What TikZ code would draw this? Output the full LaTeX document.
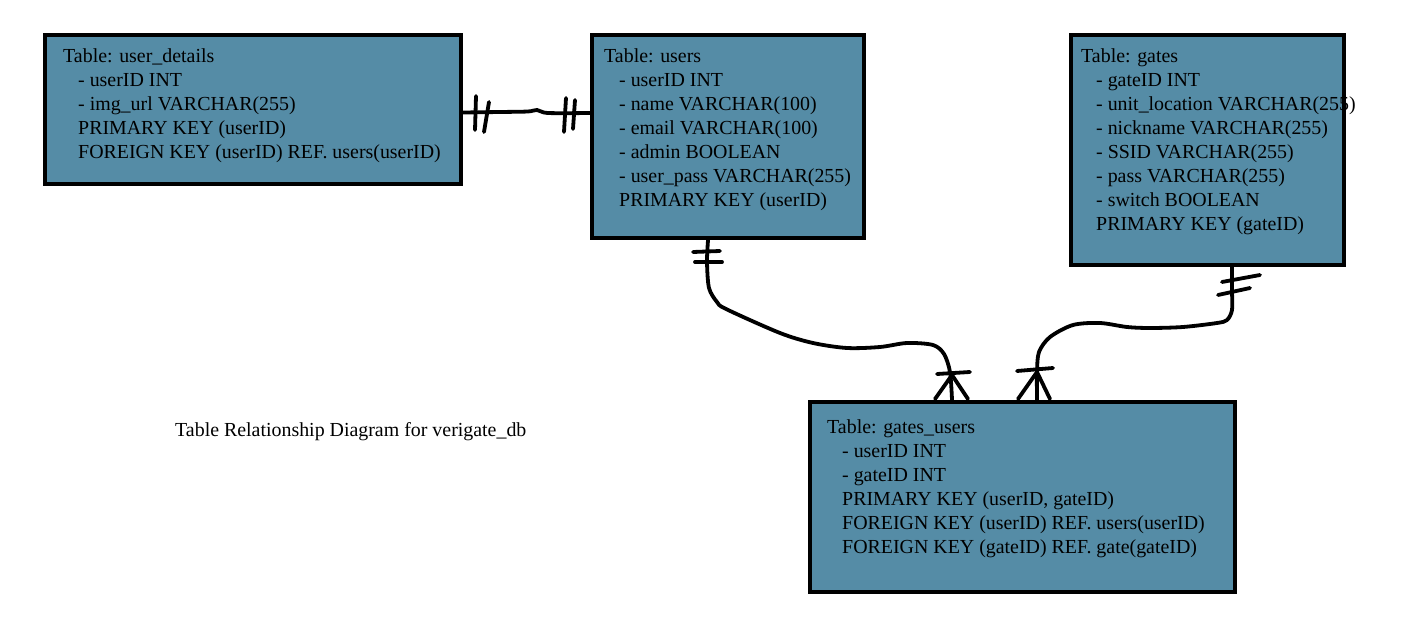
\documentclass[tikz,border=0pt]{standalone}
\usepackage{fontspec}
\setmainfont{Liberation Serif}
\usetikzlibrary{positioning,calc}
\definecolor{erTable}{HTML}{558CA6}
\newcommand{\fld}{\hspace*{15pt}}
\tikzset{
  tablebox/.style={draw=black, line width=4.5pt, fill=erTable, inner sep=0pt},
  tabletext/.style={anchor=north west, align=left, inner sep=0pt,
    font=\fontsize{19.9}{24}\selectfont},
  relline/.style={line width=3.8pt, black, line cap=round, line join=round},
  caption/.style={anchor=base west, inner sep=0pt, font=\fontsize{19.9}{24}\selectfont}
}
\begin{document}
\begin{tikzpicture}[x=1pt, y=-1pt]
  \useasboundingbox (0,0) rectangle (1422,620);

  % tables
  \node[tablebox, minimum width=416pt, minimum height=149pt] (details) at (253,109.5) {};
  \node[tablebox, minimum width=272pt, minimum height=203pt] (users) at (728,136.5) {};
  \node[tablebox, minimum width=273pt, minimum height=230pt] (gates) at (1207.5,150) {};
  \node[tablebox, minimum width=425pt, minimum height=190pt] (gatesusers) at (1022.5,497) {};

  \node[tabletext] (detailstext) at (63,45.2) {\strut Table: user\_details\\
    \fld- userID INT\\
    \fld- img\_url VARCHAR(255)\\
    \fld PRIMARY KEY (userID)\\
    \fld FOREIGN KEY (userID) REF. users(userID)};
  \node[tabletext] (userstext) at (604,45.2) {\strut Table: users\\
    \fld- userID INT\\
    \fld- name VARCHAR(100)\\
    \fld- email VARCHAR(100)\\
    \fld- admin BOOLEAN\\
    \fld- user\_pass VARCHAR(255)\\
    \fld PRIMARY KEY (userID)};
  \node[tabletext] (gatestext) at (1081,45.2) {\strut Table: gates\\
    \fld- gateID INT\\
    \fld- unit\_location VARCHAR(255)\\
    \fld- nickname VARCHAR(255)\\
    \fld- SSID VARCHAR(255)\\
    \fld- pass VARCHAR(255)\\
    \fld- switch BOOLEAN\\
    \fld PRIMARY KEY (gateID)};
  \node[tabletext] (gatesuserstext) at (827,416.2) {\strut Table: gates\_users\\
    \fld- userID INT\\
    \fld- gateID INT\\
    \fld PRIMARY KEY (userID, gateID)\\
    \fld FOREIGN KEY (userID) REF. users(userID)\\
    \fld FOREIGN KEY (gateID) REF. gate(gateID)};

  \node[caption] (title) at (175,436) {Table Relationship Diagram for verigate\_db};

  % user_details -- users (one to one)
  \draw[relline] plot[smooth] coordinates {([yshift=-3pt]details.east) (500,112)
    (528,111.5) (537,110) (548,113) ([yshift=23.5pt]users.west)};
  \draw[relline] (476,96) -- (475,130);
  \draw[relline] (489,102) -- (484,132);
  \draw[relline] (566,98) -- (564,132);
  \draw[relline] (575,100) -- (573,129);

  % users -- gates_users (one to many)
  \draw[relline] plot[smooth] coordinates {([xshift=-20pt]users.south) (707,262)
    (709,288) (717,302) (726,309) (780,333) (813,343) (847,348) (880,347)
    (907,343) (933,345) (944,354) (950,372) ([xshift=-70.5pt]gatesusers.north)};
  \draw[relline] (693,252) -- (720,251);
  \draw[relline] (695,262) -- (722,262);
  \draw[relline] (937,374) -- (970,372);
  \draw[relline] (952,375) -- (935,399);
  \draw[relline] (952,375) -- (968,399);

  % gates -- gates_users (one to many)
  \draw[relline] plot[smooth] coordinates {([xshift=24.5pt]gates.south) (1232,290)
    (1232,310) (1227,320) (1217,323) (1183,327) (1150,328) (1127,327) (1100,323)
    (1073,325) (1050,337) (1039,352) (1037,372) ([xshift=14.5pt]gatesusers.north)};
  \draw[relline] (1222,282) -- (1260,275);
  \draw[relline] (1218,295) -- (1250,288);
  \draw[relline] (1017,371) -- (1053,368);
  \draw[relline] (1037,372) -- (1018,399);
  \draw[relline] (1037,372) -- (1050,399);
\end{tikzpicture}
\end{document}
